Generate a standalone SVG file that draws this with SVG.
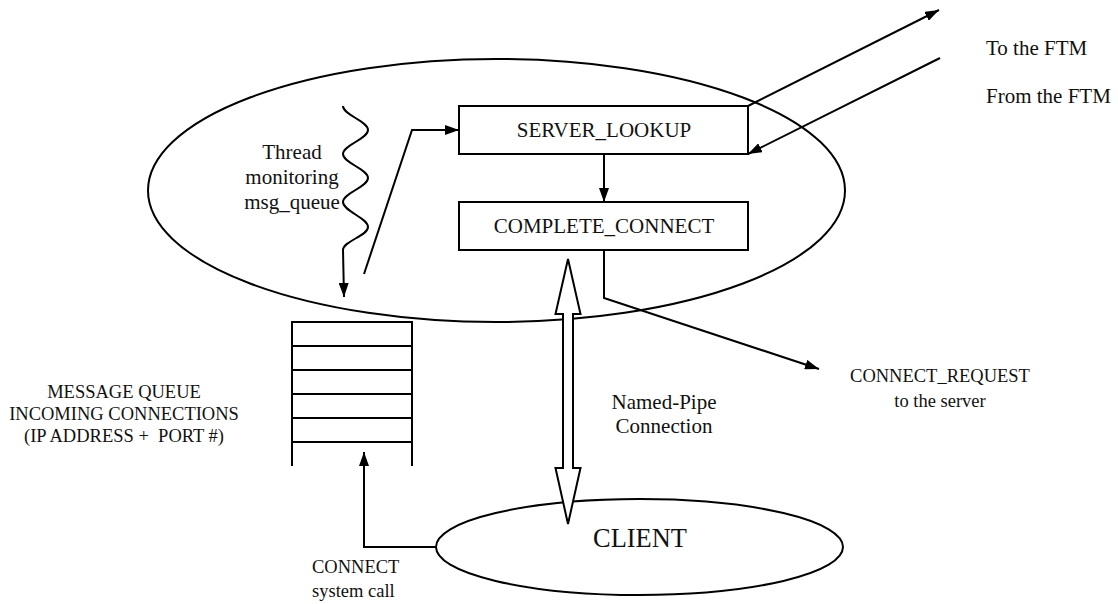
<svg xmlns="http://www.w3.org/2000/svg" width="1118" height="604" viewBox="0 0 1118 604">
<style>
  .ln { fill: none; stroke: #000; stroke-width: 2; }
  .box { fill: #fff; stroke: #000; stroke-width: 2; }
  .t { font-family: "Liberation Serif", "Times New Roman", serif; fill: #111; }
  .t21 { font-size: 21px; }
  .t18 { font-size: 18.5px; }
  .mid { text-anchor: middle; }
</style>
<defs>
  <marker id="arr" markerUnits="userSpaceOnUse" markerWidth="14" markerHeight="10" refX="14" refY="5" orient="auto">
    <path d="M0,0 L14,5 L0,10 z" fill="#000"/>
  </marker>
</defs>
<rect width="1118" height="604" fill="#fff"/>

<g id="server-process">
  <ellipse cx="496.5" cy="190.5" rx="348.5" ry="131.5" class="ln"/>
</g>

<g id="server_lookup">
  <rect x="459" y="106" width="289" height="48" class="box"/>
  <text x="604" y="137" class="t t21 mid">SERVER_LOOKUP</text>
</g>

<g id="complete_connect">
  <rect x="459" y="202" width="289" height="48" class="box"/>
  <text x="604" y="233" class="t t21 mid">COMPLETE_CONNECT</text>
</g>

<g id="thread">
  <path class="ln" d="M343,106 C343,115 368,121 368,130 C368,139 343,145 343,154 C343,163 368,169 368,178 C368,187 343,193 343,202 C343,211 368,218 368,227 C368,236 343,241 343,250 L344,297" marker-end="url(#arr)"/>
  <text x="292" y="159" class="t t21 mid">Thread</text>
  <text x="292" y="184" class="t t21 mid">monitoring</text>
  <text x="292" y="209" class="t t21 mid">msg_queue</text>
</g>

<g id="message-queue">
  <path class="ln" d="M292,466 L292,322 L412,322 L412,466 M292,346 H412 M292,370 H412 M292,394 H412 M292,418 H412 M292,442 H412"/>
  <text x="124" y="398" class="t t18 mid">MESSAGE QUEUE</text>
  <text x="124" y="420" class="t t18 mid">INCOMING CONNECTIONS</text>
  <text x="124" y="442" class="t t18 mid" xml:space="preserve">(IP ADDRESS +  PORT #)</text>
</g>

<g id="client">
  <ellipse cx="639.5" cy="547" rx="203.5" ry="48" class="ln"/>
  <text x="640" y="547" class="t mid" font-size="26.4">CLIENT</text>
</g>

<g id="connectors">
  <path class="ln" d="M364,274 L412,130 L459,130" marker-end="url(#arr)"/>
  <path class="ln" d="M604,154 L604,202" marker-end="url(#arr)"/>
  <path class="ln" d="M748,106 L939,10" marker-end="url(#arr)"/>
  <path class="ln" d="M940,58 L748,154" marker-end="url(#arr)"/>
  <path class="ln" d="M604,250 L604,298 L819,369" marker-end="url(#arr)"/>
  <path class="ln" d="M437,547 L364,547 L364,452" marker-end="url(#arr)"/>
  <polygon class="box" points="568,259 580.5,314 573,314 573,468 580.5,468 568,524 555.5,468 563,468 563,314 555.5,314"/>
</g>

<g id="labels">
  <text x="986" y="55" class="t t21">To the FTM</text>
  <text x="986" y="103" class="t t21">From the FTM</text>
  <text x="940" y="382" class="t t18 mid">CONNECT_REQUEST</text>
  <text x="940" y="407" class="t t18 mid">to the server</text>
  <text x="664" y="409" class="t t21 mid">Named-Pipe</text>
  <text x="664" y="433" class="t t21 mid">Connection</text>
  <text x="312" y="573" class="t t18">CONNECT</text>
  <text x="312" y="597" class="t t18">system call</text>
</g>
</svg>
